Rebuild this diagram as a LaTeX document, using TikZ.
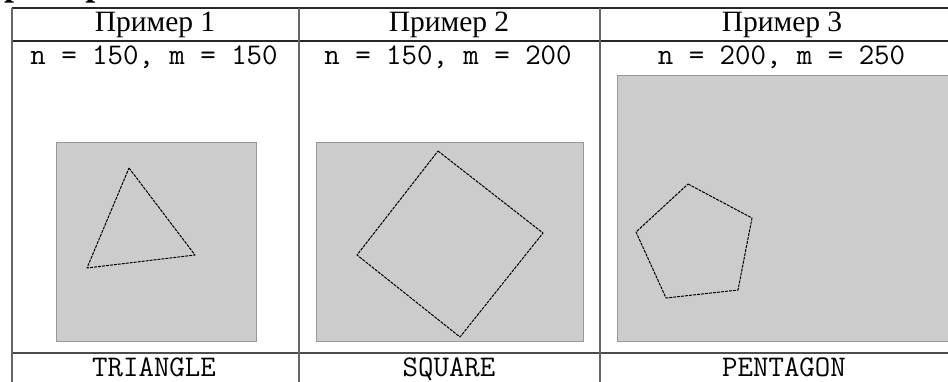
\documentclass[tikz,border=0pt]{standalone}
\usepackage{fontspec}
\setmainfont{Liberation Serif}
\tikzset{
  hline/.style={line width=1.1pt, draw=black!85},
  vline/.style={line width=1.1pt, draw=black!60},
  canvas/.style={fill=black!20, draw=black!40, line width=0.9pt},
  shapeline/.style={draw=black, line width=1pt, dash pattern=on 3pt off 1pt, line join=round},
  head/.style={font=\fontsize{29.5}{31}\selectfont, anchor=base, inner sep=0pt},
  mono/.style={font=\ttfamily\fontsize{30}{32}\selectfont, anchor=base, inner sep=0pt}
}
\begin{document}
\begin{tikzpicture}[x=1pt,y=-1pt]
\useasboundingbox (0,0) rectangle (948,381);
% title (cut off at top)
\node[anchor=base west, inner sep=0pt, font=\bfseries\fontsize{36}{38}\selectfont] (title) at (-24,-4.5) {Примеры};
% table lines
\draw[hline] (12,8) -- (960,8);
\draw[hline] (12,41) -- (960,41);
\draw[hline, draw=black!70] (12,353) -- (960,353);
\draw[vline] (12,8) -- (12,390);
\draw[vline] (299,8) -- (299,390);
\draw[vline] (600,8) -- (600,390);
% header texts
\node[head] (h1) at (155,31.7) {Пример 1};
\node[head] (h2) at (449,31.7) {Пример 2};
\node[head] (h3) at (782,31.7) {Пример 3};
\node[mono] (p1) at (154,64) {n = 150, m = 150};
\node[mono] (p2) at (448,64) {n = 150, m = 200};
\node[mono] (p3) at (781.5,64) {n = 200, m = 250};
% canvases
\draw[canvas] (56,142) rectangle (256,341);
\draw[canvas] (316,142) rectangle (583,341);
\draw[canvas] (617,75) rectangle (952,341);
% shapes
\draw[shapeline] (129,168) -- (195,255) -- (87,268) -- cycle;
\draw[shapeline] (438,151) -- (543,233) -- (460,337) -- (357,255) -- cycle;
\draw[shapeline] (688,184) -- (752,218) -- (738,290) -- (666,298) -- (636,232) -- cycle;
% bottom labels
\node[mono] (l1) at (154,376) {TRIANGLE};
\node[mono] (l2) at (449,376) {SQUARE};
\node[mono] (l3) at (784,376) {PENTAGON};
\end{tikzpicture}
\end{document}
